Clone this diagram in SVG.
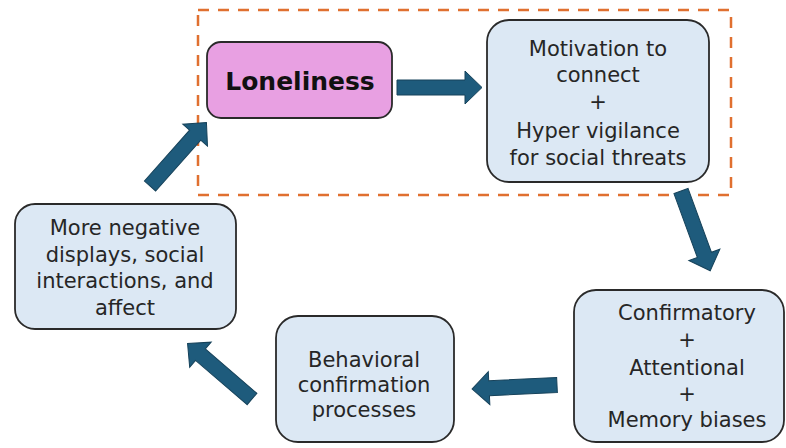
<svg xmlns="http://www.w3.org/2000/svg" xmlns:xlink="http://www.w3.org/1999/xlink" width="786" height="448" viewBox="0 0 786 448">
<style>
.box{fill:#dce8f4;stroke:#2a2a2a;stroke-width:1.8}
.pink{fill:#e8a0e2;stroke:#2a2a2a;stroke-width:1.8}
.t{font-family:"DejaVu Sans",Verdana,sans-serif;font-size:21px;fill:#262626;text-anchor:middle}
.tb{font-family:"DejaVu Sans",Verdana,sans-serif;font-size:25px;font-weight:bold;fill:#111;text-anchor:middle}
.arr{fill:#1e5b7c;stroke:#16425a;stroke-width:1}
.dash{fill:none;stroke:#e07030;stroke-width:2.5;stroke-dasharray:11 9}
</style>
<defs>
<polygon id="blk" points="0,-7.5 68,-7.5 68,-16.5 85,0 68,16.5 68,7.5 0,7.5"/>
</defs>
<rect width="786" height="448" fill="#ffffff"/>
<rect id="focus" class="dash" x="198" y="10" width="533" height="185"/>
<g id="connectors" class="arr">
<use xlink:href="#blk" href="#blk" transform="translate(397,87.5) rotate(0)"/>
<use xlink:href="#blk" href="#blk" transform="translate(681,191) rotate(69.9)"/>
<use xlink:href="#blk" href="#blk" transform="translate(557,385) rotate(177.3)"/>
<use xlink:href="#blk" href="#blk" transform="translate(252,399) rotate(-139.3)"/>
<use xlink:href="#blk" href="#blk" transform="translate(150,186) rotate(-48.4)"/>
</g>
<g id="loneliness">
<rect class="pink" x="207" y="42" width="185" height="76" rx="14"/>
<text class="tb" x="300" y="90">Loneliness</text>
</g>
<g id="motivation">
<rect class="box" x="487" y="20" width="222" height="162" rx="22"/>
<text class="t" x="598" y="56">Motivation to</text>
<text class="t" x="598" y="82">connect</text>
<text class="t" x="598" y="109">+</text>
<text class="t" x="598" y="138">Hyper vigilance</text>
<text class="t" x="598" y="165">for social threats</text>
</g>
<g id="biases">
<rect class="box" x="574" y="290" width="210" height="152" rx="22"/>
<text class="t" x="687" y="320">Confirmatory</text>
<text class="t" x="687" y="347">+</text>
<text class="t" x="687" y="375">Attentional</text>
<text class="t" x="687" y="401">+</text>
<text class="t" x="687" y="427">Memory biases</text>
</g>
<g id="behavioral">
<rect class="box" x="276" y="316" width="178" height="126" rx="22"/>
<text class="t" x="364" y="367">Behavioral</text>
<text class="t" x="364" y="392">confirmation</text>
<text class="t" x="364" y="417">processes</text>
</g>
<g id="negative">
<rect class="box" x="15" y="204" width="221" height="125" rx="20"/>
<text class="t" x="125" y="235">More negative</text>
<text class="t" x="125" y="262">displays, social</text>
<text class="t" x="125" y="288">interactions, and</text>
<text class="t" x="125" y="315">affect</text>
</g>
</svg>
